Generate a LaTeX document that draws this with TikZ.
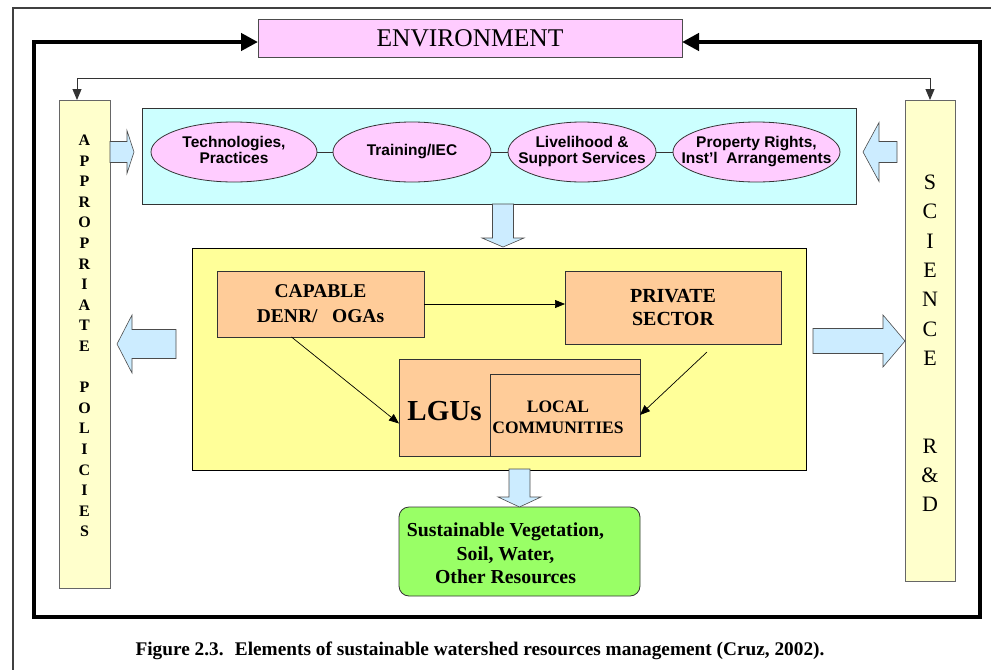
\documentclass[tikz,border=0pt]{standalone}
\usepackage{fontspec}
\setmainfont{Liberation Serif}
\setsansfont{Liberation Sans}
\usetikzlibrary{shapes,arrows.meta,positioning,calc}

\definecolor{pinkbox}{HTML}{FFCCFF}
\definecolor{cyanbox}{HTML}{CCFFFF}
\definecolor{palebar}{HTML}{FFFFCC}
\definecolor{yellowbox}{HTML}{FFFF99}
\definecolor{orangebox}{HTML}{FFCC99}
\definecolor{greenbox}{HTML}{99FF66}
\definecolor{arrowblue}{HTML}{CCECFF}

\newcommand\fsize[2]{\fontsize{#1}{#2}\selectfont}
\newcommand\elltext[1]{\makebox[0pt]{\begin{tabular}{@{}c@{}}#1\end{tabular}}}
% block arrow: tail, tip, half shaft, half head, head length
\newcommand\fatarrow[5]{%
  \draw[fat] let \p1=#1, \p2=#2, \n1={atan2(\y2-\y1,\x2-\x1)}, \n2={veclen(\x2-\x1,\y2-\y1)} in
    [shift={(\p1)}, rotate=\n1]
    (0,#3) -- (\n2-#5,#3) -- (\n2-#5,#4) -- (\n2,0) -- (\n2-#5,-#4) -- (\n2-#5,-#3) -- (0,-#3) -- cycle;}

\begin{document}
\begin{tikzpicture}[
    x=1pt, y=-1pt,
    box/.style={draw=black!80, rectangle, inner sep=0pt, outer sep=0pt, line width=0.8pt},
    bar/.style={box, draw=black!60, fill=palebar},
    ell/.style={draw=black!80, ellipse, fill=pinkbox, inner sep=0pt, outer sep=0pt, line width=0.8pt,
                minimum height=60pt, font=\sffamily\bfseries\fsize{15.5}{16}},
    fat/.style={draw=black!70, fill=arrowblue, line width=0.6pt, line join=miter},
    link/.style={-{Triangle[length=10pt,width=8pt]}, line width=0.7pt}
]
\useasboundingbox (0,0) rectangle (991,670);

\draw[black!75, line width=1.4pt] (991,8) -- (13,8) -- (13,670);

\node[box, draw=black!70, fill=pinkbox, minimum width=424pt, minimum height=38pt, font=\fsize{25.5}{28}] (env) at (470,38) {ENVIRONMENT};

\node[bar, minimum width=51pt, minimum height=488pt] (pol) at (84.5,344) {};
\node[align=center, font=\bfseries\fsize{16}{20.6}] (poltext) at ($(pol.center)+(0,-8)$)
  {A\\P\\P\\R\\O\\P\\R\\I\\A\\T\\E\\~\\P\\O\\L\\I\\C\\I\\E\\S};
\node[bar, minimum width=50pt, minimum height=481pt] (sci) at (930,340.5) {};
\node[align=center, font=\fsize{22}{29.3}] (scitext) at ($(sci.center)+(0,3)$)
  {S\\C\\I\\E\\N\\C\\E\\~\\~\\R\\\&\\D};

\node[box, fill=cyanbox, minimum width=714pt, minimum height=96pt] (inputs) at (499,156) {};
\node[ell, minimum width=166pt] (tech) at (234,152) {\elltext{Technologies,\\Practices}};
\node[ell, minimum width=158pt, right=16pt of tech] (train) {\elltext{Training/IEC}};
\node[ell, minimum width=148pt, right=17pt of train] (live) {\elltext{Livelihood \&\\Support Services}};
\node[ell, minimum width=167pt, right=17pt of live] (prop) {\elltext{Property Rights,\\Inst'l~ Arrangements}};
\draw[black!80, line width=0.8pt] (tech) -- (train) -- (live) -- (prop);

\node[box, draw=black, fill=yellowbox, minimum width=614pt, minimum height=222pt] (actors) at (499,359) {};
\node[box, fill=orangebox, minimum width=207pt, minimum height=66pt, align=center, font=\bfseries\fsize{19.5}{25}] (denr) at (320.5,304) {CAPABLE\\DENR/~~ OGAs};
\node[box, fill=orangebox, minimum width=216pt, minimum height=73pt, align=center, font=\bfseries\fsize{20}{23}] (private) at (673,307.5) {PRIVATE\\SECTOR};
\node[box, fill=orangebox, minimum width=241pt, minimum height=97pt] (lgu) at (519.5,407.5) {};
\node[box, fill=orangebox, minimum width=150pt, minimum height=82pt] (local) at (565,415) {};
\node[align=center, font=\bfseries\fsize{17.5}{21}] (localtext) at ($(local.center)+(-7,2)$) {LOCAL\\COMMUNITIES};
\node[font=\bfseries\fsize{29}{30}] (lgutext) at ($(lgu.west)!0.5!(local.west)$) {LGUs};

\node[box, fill=greenbox, rounded corners=10pt, minimum width=241pt, minimum height=89pt] (res) at (519.5,551.5) {};
\node[align=center, font=\bfseries\fsize{19.8}{23.5}] (restext) at ($(res.center)+(-14,2)$)
  {Sustainable Vegetation,\\Soil, Water,\\Other Resources};

\draw[link] (denr.east) -- (denr.east -| private.west);
\draw[link] ($(denr.south west)!0.36!(denr.south east)$) -- ([yshift=-16pt]lgu.west);
\draw[link] ($(private.south)+(34,8)$) -- (local.east);

\fatarrow{(pol.east |- tech.center)}{($(inputs.west |- tech.center)+(-8,0)$)}{10.5}{21.5}{7}
\fatarrow{($(sci.west |- prop.center)+(-8,0)$)}{($(inputs.east |- prop.center)+(7,0)$)}{10.5}{29.5}{16}
\fatarrow{($(inputs.south)+(4,0)$)}{($(actors.north)+(4,-1)$)}{10.5}{21}{9}
\fatarrow{($(actors.west)+(-16,-15)$)}{($(pol.east |- actors.west)+(7,-15)$)}{14.5}{29}{15}
\fatarrow{($(actors.east)+(7,-18)$)}{($(sci.west |- actors.east)+(0,-18)$)}{12.5}{26}{22}
\fatarrow{($(actors.south -| res.north)+(0,-1)$)}{(res.north)}{10.5}{21.5}{10}

\draw[line width=4.5pt, {Triangle[length=17pt,width=17pt]}-{Triangle[length=17pt,width=17pt]}]
  ([yshift=-4pt]env.west) -| (34,617) -| (980,42) -- ([yshift=-4pt]env.east);
\draw[black!80, line width=0.9pt, {Triangle[length=11pt,width=9pt]}-{Triangle[length=11pt,width=9pt]}]
  ([xshift=-7.5pt]pol.north) -- ++(0,-22) -| (sci.north);

\node[font=\bfseries\fsize{19.3}{22}] (caption) at (480,651)
  {Figure 2.3.~ Elements of sustainable watershed resources management (Cruz, 2002).};

\end{tikzpicture}
\end{document}
